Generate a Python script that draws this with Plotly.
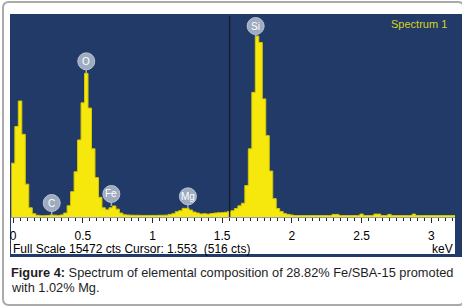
import plotly.graph_objects as go

# ---------------- data ----------------
bin_start = 0.0      # keV, centre of first channel
bin_width = 0.025    # keV per channel
counts = [
    4100, 6900, 8840, 6300, 2500, 700, 250, 130, 100, 100,
    120, 150, 140, 120, 160, 300, 860, 1930, 3450, 5870,
    8700, 10950, 8300, 5200, 3000, 1500, 700, 550, 700, 840,
    600, 300, 170, 150, 140, 130, 130, 120, 120, 120,
    120, 120, 130, 130, 140, 200, 250, 400, 480, 660,
    660, 530, 380, 300, 230, 250, 220, 260, 300, 320,
    330, 360, 420, 480, 650, 850, 1050, 2400, 5200, 9500,
    13800, 13300, 9000, 6200, 3500, 1400, 650, 420, 260, 200,
    150,
    110, 110, 110, 110, 110, 110, 110, 110, 110, 110, 110,
    200, 200,
    110, 110, 110, 110, 110, 110,
    220,
    110, 110, 110,
    220, 220,
    110, 110,
    200,
    110, 110, 110, 110, 110, 110,
    220,
    110, 110, 110, 110, 110, 110, 110, 110, 110, 110, 110, 110,
]
energies = [round(bin_start + i * bin_width, 4) for i in range(len(counts))]

elements = ["C", "O", "Fe", "Mg", "Si"]
element_keV = [0.277, 0.525, 0.705, 1.254, 1.740]
element_peak_cts = [150, 10950, 840, 660, 13640]

full_scale = 15472
cursor_keV = 1.553
cursor_cts = 516
tick_vals = [0, 0.5, 1, 1.5, 2, 2.5, 3]
tick_text = ["0", "0.5", "1", "1.5", "2", "2.5", "3"]
x_range = [-0.0222, 3.170]

# ---------------- styling ----------------
W, H = 462, 308
ML, MR, MT, MB = 10, 7, 14, 91
PW, PH = W - ML - MR, H - MT - MB
BLUE = "rgb(33,58,103)"
YELLOW = "rgb(246,232,12)"
YEDGE = "rgb(214,200,0)"
LABEL = "rgb(158,171,192)"
FONT = "Liberation Sans"


def px(x):
    return (x - ML) / PW


def py(y):
    return (H - MB - y) / PH


# step histogram: x at channel left edges
xs = [e - bin_width / 2 for e in energies] + [energies[-1] + bin_width / 2]
ys = counts + [counts[-1]]

fig = go.Figure()
fig.add_trace(go.Scatter(
    x=xs, y=ys, mode="lines", line=dict(shape="hv", color=YEDGE, width=1),
    fill="tozeroy", fillcolor=YELLOW, hoverinfo="skip", showlegend=False,
))

shapes = []
# outer rounded frame
r = 6
x0, x1, y0, y1 = px(3), px(464), py(2), py(305)
rx, ry = r / PW, r / PH
shapes.append(dict(
    type="path", xref="paper", yref="paper", layer="below",
    path=(f"M {x0+rx} {y0} L {x1-rx} {y0} Q {x1} {y0} {x1} {y0-ry} "
          f"L {x1} {y1+ry} Q {x1} {y1} {x1-rx} {y1} L {x0+rx} {y1} "
          f"Q {x0} {y1} {x0} {y1+ry} L {x0} {y0-ry} Q {x0} {y0} {x0+rx} {y0} Z"),
    line=dict(color="rgb(170,170,170)", width=2), fillcolor="white",
))
# dark blue panel
shapes.append(dict(type="rect", xref="paper", yref="paper", layer="below",
                   x0=px(10), x1=px(462), y0=py(14), y1=py(257),
                   fillcolor=BLUE, line=dict(width=0)))
# white axis strip
shapes.append(dict(type="rect", xref="paper", yref="paper", layer="below",
                   x0=px(11), x1=px(455), y0=py(217.5), y1=py(254),
                   fillcolor="white", line=dict(width=0)))
# cursor line
shapes.append(dict(type="line", xref="x", yref="paper", x0=cursor_keV, x1=cursor_keV,
                   y0=0, y1=py(16), line=dict(color="rgb(22,30,50)", width=1.5)))

annotations = []
for el, e, c in zip(elements, element_keV, element_peak_cts):
    shapes.append(dict(type="line", xref="x", yref="y", xsizemode="pixel", ysizemode="pixel",
                       xanchor=e, yanchor=c, x0=0, x1=0, y0=0, y1=5,
                       line=dict(color=LABEL, width=1.5)))
    shapes.append(dict(type="circle", xref="x", yref="y", xsizemode="pixel", ysizemode="pixel",
                       xanchor=e, yanchor=c, x0=-8.5, x1=8.5, y0=3.5, y1=20.5,
                       fillcolor=LABEL, line=dict(color="rgb(185,195,212)", width=1)))
    annotations.append(dict(x=e, y=c, xref="x", yref="y", text=el, showarrow=False,
                            yshift=12, font=dict(family=FONT, size=10, color="white")))

annotations += [
    dict(x=px(449), y=py(24), xref="paper", yref="paper", text="Spectrum 1",
         showarrow=False, xanchor="right", yanchor="middle",
         font=dict(family=FONT, size=11, color="rgb(214,210,30)")),
    dict(x=px(11), y=py(249), xref="paper", yref="paper",
         text=f"Full Scale {full_scale} cts Cursor: {cursor_keV}&nbsp; ({cursor_cts} cts)",
         showarrow=False, xanchor="left", yanchor="middle",
         font=dict(family=FONT, size=12, color="black")),
    dict(x=px(455), y=py(249), xref="paper", yref="paper", text="keV",
         showarrow=False, xanchor="right", yanchor="middle",
         font=dict(family=FONT, size=12, color="black")),
    dict(x=px(9), y=py(272), xref="paper", yref="paper",
         text="<b>Figure 4:</b> Spectrum of elemental composition of 28.82% Fe/SBA-15 promoted",
         showarrow=False, xanchor="left", yanchor="middle",
         font=dict(family=FONT, size=12.8, color="rgb(30,30,30)")),
    dict(x=px(9), y=py(287), xref="paper", yref="paper",
         text="with 1.02% Mg.",
         showarrow=False, xanchor="left", yanchor="middle",
         font=dict(family=FONT, size=12.8, color="rgb(30,30,30)")),
]

fig.update_layout(
    width=W, height=H, margin=dict(l=ML, r=MR, t=MT, b=MB, pad=0),
    paper_bgcolor="white", plot_bgcolor=BLUE,
    shapes=shapes, annotations=annotations, showlegend=False,
    xaxis=dict(range=x_range, tickmode="array", tickvals=tick_vals, ticktext=tick_text,
               ticks="outside", ticklen=5, tickcolor="rgb(40,40,40)", tickwidth=1,
               showgrid=False, zeroline=False, showline=False, ticklabelstandoff=3,
               tickfont=dict(family=FONT, size=12, color="black"),
               minor=dict(dtick=0.05, tick0=0, ticks="outside", ticklen=3,
                          tickcolor="rgb(40,40,40)", showgrid=False),
               fixedrange=True),
    yaxis=dict(range=[0, full_scale], visible=False, fixedrange=True),
)

fig.write_html(
    "out.html",
    config={"displayModeBar": False, "staticPlot": True},
    post_script="document.body.style.margin='0';document.body.style.overflow='hidden';",
)
